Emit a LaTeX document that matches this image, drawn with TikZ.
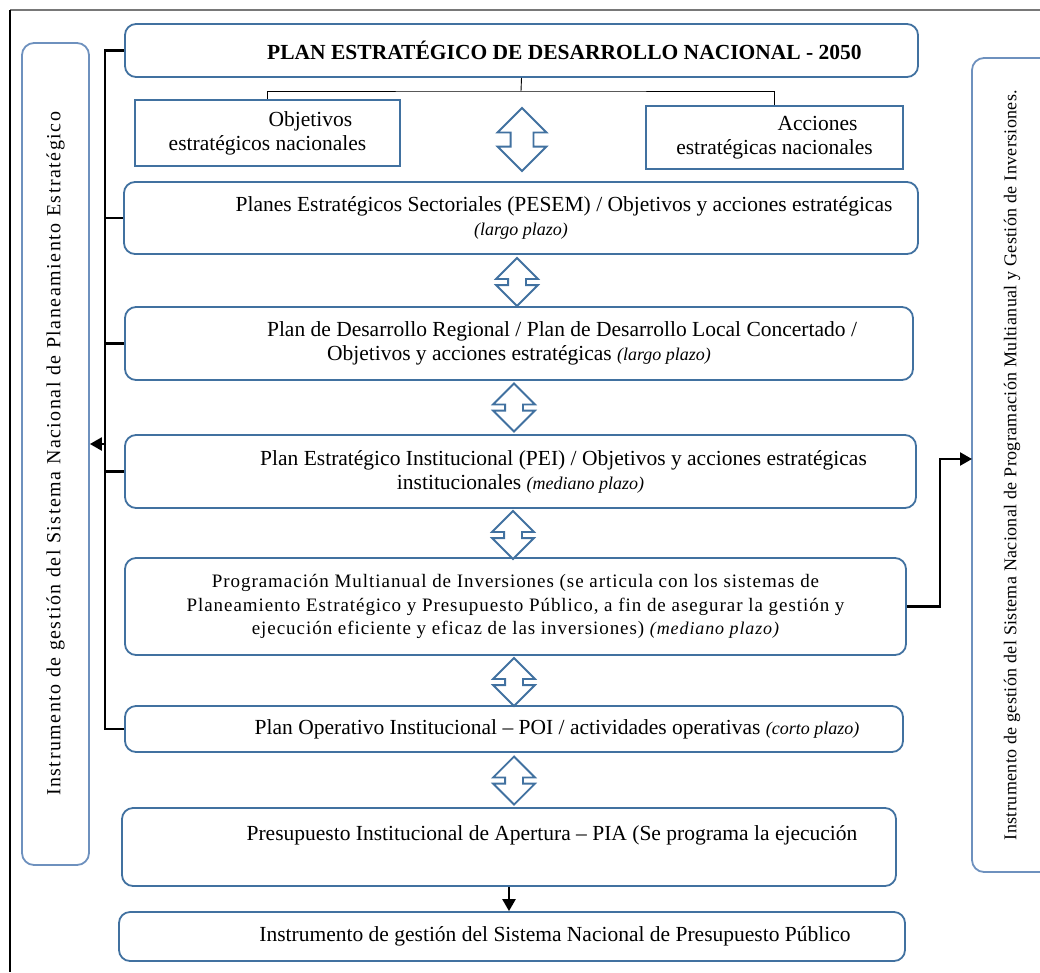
\documentclass[tikz,border=0pt]{standalone}
\usepackage{fontspec}
\setmainfont{Liberation Serif}
\usetikzlibrary{positioning, arrows.meta, shapes.arrows, calc}
\definecolor{boxblue}{RGB}{65,113,160}
\definecolor{sideblue}{RGB}{110,145,190}
\definecolor{framegray}{RGB}{120,120,120}
\newcommand{\ind}{\hspace*{86pt}}
\newcommand{\plazo}[1]{{\fontsize{18}{22}\selectfont\itshape(#1)}}

\begin{document}
\begin{tikzpicture}[x=1pt, y=-1pt,
  plan/.style={draw=boxblue, line width=1.8pt, rounded corners=11pt, fill=white,
               align=center, inner sep=2pt, font={\fontsize{21.5}{24}\selectfont}},
  goal/.style={plan, rounded corners=0pt},
  side/.style={draw=sideblue, line width=1.8pt, rounded corners=12pt,
               rotate=90, align=center},
  link/.style={line width=2.4pt, draw=black},
  arr/.style={link, -{Triangle[length=12pt, width=13pt]}},
  dblarr/.style={double arrow, draw=boxblue, line width=1.8pt, fill=white,
                 rotate=90, inner xsep=0pt, inner ysep=8pt, minimum width=30pt,
                 minimum height=48pt, double arrow head extend=12pt,
                 double arrow tip angle=90}
]
\useasboundingbox (0,0) rectangle (1040,972);

% marco
\draw[line width=1.2pt, framegray] (1040,10) -- (10,10);
\draw[line width=1.4pt] (10,10) -- (10,972);

% instrumentos laterales
\node[side, minimum width=822pt, minimum height=67pt,
      font={\fontsize{20}{24}\selectfont\addfontfeature{LetterSpace=7.5}}] (sinaplan) at (55.5,454)
      {Instrumento de gestión del Sistema Nacional de Planeamiento Estratégico};
\node[side, minimum width=814pt, minimum height=80pt,
      font={\fontsize{18}{22}\selectfont\addfontfeature{LetterSpace=2}}] (sinpmi) at (1012,465)
      {Instrumento de gestión del Sistema Nacional de Programación Multianual y Gestión de Inversiones.};

% planes
\node[plan, minimum width=793pt, minimum height=53pt,
      font={\fontsize{21.5}{24}\selectfont\bfseries}] (pedn) at (521.5,50.5)
      {\ind PLAN ESTRATÉGICO DE DESARROLLO NACIONAL - 2050};
\node[goal, minimum width=265pt, minimum height=66pt] (oen) at (267.5,133)
      {\ind Objetivos\\estratégicos nacionales};
\node[goal, minimum width=257pt, minimum height=63pt] (aen) at (774.5,137.5)
      {\ind Acciones\\estratégicas nacionales};
\node[plan, minimum width=794pt, minimum height=72pt] (pesem) at (521,218)
      {\ind Planes Estratégicos Sectoriales (PESEM) / Objetivos y acciones estratégicas\\\plazo{largo plazo}};
\node[plan, minimum width=788pt, minimum height=73pt] (pdrc) at (519,343.5)
      {\ind Plan de Desarrollo Regional / Plan de Desarrollo Local Concertado /\\Objetivos y acciones estratégicas \plazo{largo plazo}};
\node[plan, minimum width=791pt, minimum height=73pt] (pei) at (520.5,471.5)
      {\ind Plan Estratégico Institucional (PEI) / Objetivos y acciones estratégicas\\institucionales \plazo{mediano plazo}};
\node[plan, minimum width=781pt, minimum height=97pt,
      font={\fontsize{19}{23.5}\selectfont\addfontfeature{LetterSpace=5}}] (pmi) at (515.5,606.5)
      {Programación Multianual de Inversiones (se articula con los sistemas de\\Planeamiento Estratégico y Presupuesto Público, a fin de asegurar la gestión y\\ejecución eficiente y eficaz de las inversiones) \plazo{mediano plazo}};
\node[plan, minimum width=778pt, minimum height=46pt] (poi) at (514,729)
      {\ind Plan Operativo Institucional – POI / actividades operativas \plazo{corto plazo}};
\node[plan, minimum width=774pt, minimum height=78pt] (pia) at (509,847)
      {\ind Presupuesto Institucional de Apertura – PIA (Se programa la ejecución\\[4pt]~};
\node[plan, minimum width=786pt, minimum height=49pt] (sinpp) at (512,936.5)
      {\ind Instrumento de gestión del Sistema Nacional de Presupuesto Público};

% flechas dobles
\node[dblarr, inner ysep=10.5pt, minimum height=63pt, double arrow head extend=13pt] (d0) at (522,139.5) {};
\foreach \nm/\pos in {d1/{(517,282)}, d2/{(514,407.5)}, d3/{(513,535)}, d4/{(514,682)}, d5/{(514,780.5)}}
  \node[dblarr] (\nm) at \pos {};

% llave del plan nacional
\coordinate (brk) at (521,91);
\draw[line width=0.9pt] (pedn.south) -- (brk);
\draw[line width=0.9pt] (oen.north) |- (brk) -| (aen.north);

% conectores
\draw[link] (pedn.west) -- ++(-19,0) |- (poi.west);
\foreach \n in {pesem, pdrc, pei}
  \draw[link] (\n.west) -- ++(-19,0);
\coordinate (spl) at (106,444);
\draw[arr] (spl) -- (spl -| sinaplan.south);
\coordinate (inv) at (972,459);
\draw[arr] (pmi.east) -- ++(33,0) |- (inv);
\draw[arr] (pia.south) -- (pia.south |- sinpp.north);

\end{tikzpicture}
\end{document}
